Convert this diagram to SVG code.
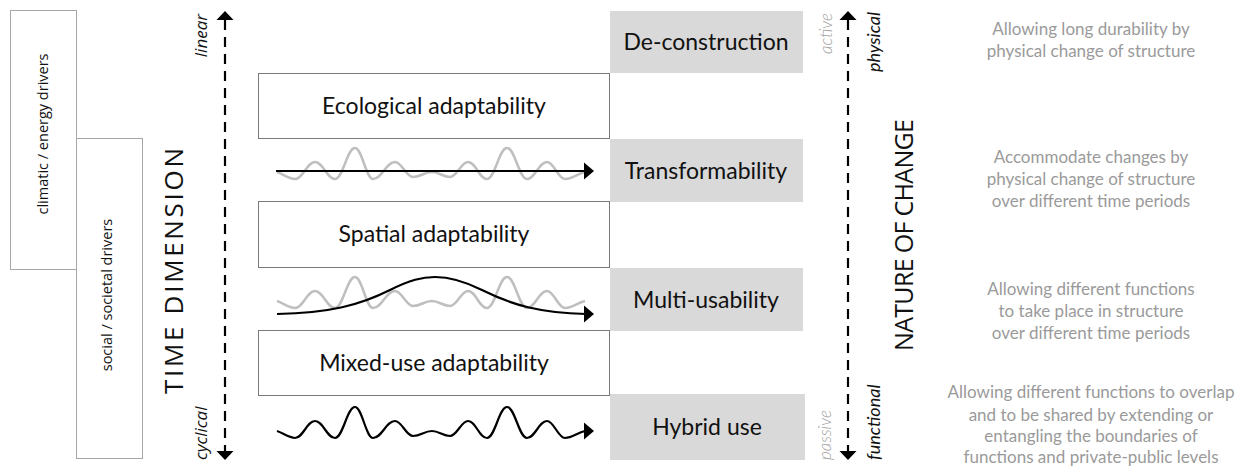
<svg xmlns="http://www.w3.org/2000/svg" width="1246" height="466" viewBox="0 0 1246 466">
<style>
.drv{fill:#fff;stroke:#a6a6a6;stroke-width:1}
.box{fill:#fff;stroke:#7a7a7a;stroke-width:1}
.gbox{fill:#d9d9d9}
.os{font-family:"Open Sans","DejaVu Sans",sans-serif;fill:#111}
.lato{font-family:Lato,"Open Sans",sans-serif;fill:#111}
.lbl{font-size:23px;text-anchor:middle}
.big{font-family:"Open Sans","DejaVu Sans",sans-serif;fill:#111;font-size:25px;text-anchor:middle}
.desc{font-family:Lato,"Open Sans",sans-serif;font-size:17px;fill:#9a9a9a;text-anchor:middle}
.soft{fill:#9f9f9f}
.dash{stroke:#000;stroke-width:2.2;stroke-dasharray:10 7;fill:none}
.blk{stroke:#000;stroke-width:2.2;fill:none}
.gry{stroke:#bfbfbf;stroke-width:2.5;fill:none}
</style>
<defs>
<path id="wave" d="M277,431 C283,433 289,438 295,438 C303,438 307,421 315,421 C323,421 327,438 335,438 C343,438 347,407 355,407 C362,407 366,438 373,438 C382,438 386,421 395,421 C402,421 406,436 413,436 C421,436 424,431 432,431 C439,431 443,436 450,436 C457,436 461,421 468,421 C476,421 479,438 487,438 C495,438 499,407 507,407 C515,407 519,438 527,438 C535,438 539,421 547,421 C554,421 558,438 565,438 C572,438 577,433 585,431"/>
</defs>

<g id="climatic-drivers">
<rect class="drv" x="10.5" y="10.5" width="66" height="259"/>
<text class="os" font-size="14.5" text-anchor="middle" transform="translate(48,134) rotate(-90)">climatic / energy drivers</text>
</g>
<g id="social-drivers">
<rect class="drv" x="76.5" y="138.5" width="66" height="320"/>
<text class="os" font-size="14.5" text-anchor="middle" transform="translate(112,295) rotate(-90)">social / societal drivers</text>
</g>

<g id="time-dimension">
<text class="big" font-size="26" style="font-size:26px" textLength="246" lengthAdjust="spacing" transform="translate(183,271) rotate(-90)">TIME DIMENSION</text>
<text class="os" font-size="17" font-style="italic" text-anchor="end" transform="translate(207,14) rotate(-90)">linear</text>
<text class="os" font-size="17" font-style="italic" text-anchor="start" transform="translate(207,460) rotate(-90)">cyclical</text>
</g>

<g id="ecological">
<rect class="box" x="258.5" y="73.5" width="351" height="65"/>
<text class="lato lbl" x="434" y="113.8">Ecological adaptability</text>
</g>
<g id="spatial">
<rect class="box" x="258.5" y="201.5" width="351" height="66"/>
<text class="lato lbl" x="434" y="242.3">Spatial adaptability</text>
</g>
<g id="mixed-use">
<rect class="box" x="258.5" y="330.5" width="351" height="65"/>
<text class="lato lbl" x="434" y="370.8">Mixed-use adaptability</text>
</g>

<g id="de-construction">
<rect class="gbox" x="610" y="11" width="193" height="62"/>
<text class="lato lbl" x="706" y="50.3">De-construction</text>
</g>
<g id="transformability">
<rect class="gbox" x="610" y="139" width="193" height="63"/>
<text class="lato lbl" x="706" y="178.8">Transformability</text>
</g>
<g id="multi-usability">
<rect class="gbox" x="610" y="268" width="193" height="63"/>
<text class="lato lbl" x="706" y="307.8">Multi-usability</text>
</g>
<g id="hybrid-use">
<rect class="gbox" x="610" y="394" width="195" height="66"/>
<text class="lato lbl" x="707" y="435.3">Hybrid use</text>
</g>

<g id="nature-of-change">
<text class="big" textLength="232" lengthAdjust="spacing" transform="translate(913,235) rotate(-90)">NATURE OF CHANGE</text>
<text class="lato soft" font-size="17" font-style="italic" font-weight="300" text-anchor="end" transform="translate(832,13) rotate(-90)">active</text>
<text class="lato soft" font-size="17" font-style="italic" font-weight="300" text-anchor="start" transform="translate(831,460) rotate(-90)">passive</text>
<text class="lato" font-size="18" font-style="italic" text-anchor="end" transform="translate(880,12) rotate(-90)">physical</text>
<text class="lato" font-size="18" font-style="italic" text-anchor="start" transform="translate(880,460) rotate(-90)">functional</text>
</g>

<g id="connectors">
<line class="dash" x1="225" y1="20" x2="225" y2="451"/>
<polygon points="216.5,20 225,11 233.5,20"/>
<polygon points="216.5,451 225,460 233.5,451"/>
<line class="dash" x1="848" y1="20" x2="848" y2="451"/>
<polygon points="839.5,20 848,11 856.5,20"/>
<polygon points="839.5,451 848,460 856.5,451"/>

<use href="#wave" class="gry" transform="translate(0,-259)"/>
<line class="blk" x1="276" y1="171" x2="586" y2="171"/>
<polygon points="584,162.5 594,171 584,179.5"/>

<use href="#wave" class="gry" transform="translate(0,-130)"/>
<path class="blk" d="M277,314 C330,313 360,305 390,290 C410,280 422,277 435,277 C448,277 462,280 482,290 C512,305 540,313 586,314"/>
<polygon points="584,305.5 594,314 584,322.5"/>

<use href="#wave" class="blk"/>
<polygon points="584,422.5 594,431 584,439.5"/>
</g>

<g id="descriptions">
<text class="desc" x="1091" y="35">Allowing long durability by</text>
<text class="desc" x="1091" y="57">physical change of structure</text>
<text class="desc" x="1091" y="163">Accommodate changes by</text>
<text class="desc" x="1091" y="185">physical change of structure</text>
<text class="desc" x="1091" y="207">over different time periods</text>
<text class="desc" x="1091" y="295">Allowing different functions</text>
<text class="desc" x="1091" y="317">to take place in structure</text>
<text class="desc" x="1091" y="339">over different time periods</text>
<text class="desc" x="1091" y="398">Allowing different functions to overlap</text>
<text class="desc" x="1091" y="421">and to be shared by extending or</text>
<text class="desc" x="1091" y="442">entangling the boundaries of</text>
<text class="desc" x="1091" y="463">functions and private-public levels</text>
</g>
</svg>
